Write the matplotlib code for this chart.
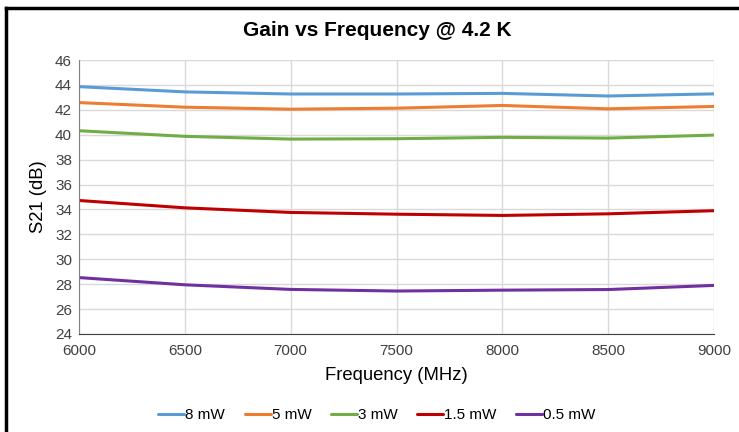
import matplotlib
matplotlib.use("Agg")
import matplotlib.pyplot as plt
from matplotlib.lines import Line2D

plt.rcParams['font.family'] = ['Liberation Sans', 'DejaVu Sans']

# donnees
freq = [6000, 6500, 7000, 7500, 8000, 8500, 9000]
gain_8mw = [43.86, 43.44, 43.27, 43.27, 43.32, 43.11, 43.28]
gain_5mw = [42.58, 42.21, 42.05, 42.13, 42.35, 42.08, 42.27]
gain_3mw = [40.32, 39.87, 39.65, 39.68, 39.79, 39.73, 39.97]
gain_1p5mw = [34.72, 34.13, 33.76, 33.62, 33.52, 33.65, 33.90]
gain_0p5mw = [28.53, 27.95, 27.58, 27.45, 27.52, 27.57, 27.90]

series = [
	("8 mW", gain_8mw, "#5B9BD5"),
	("5 mW", gain_5mw, "#ED7D31"),
	("3 mW", gain_3mw, "#70AD47"),
	("1.5 mW", gain_1p5mw, "#C00000"),
	("0.5 mW", gain_0p5mw, "#7030A0"),
]

fig = plt.figure(figsize=(7.39, 4.32), dpi=100)
ax = fig.add_axes([79/739, 1-334/432, (714-79)/739, (334-60)/432])

for label, vals, col in series:
	ax.plot(freq, vals, color=col, lw=2.2, label=label, solid_capstyle='round')

ax.set_xlim(6000, 9000)
ax.set_ylim(24, 46)
ax.set_xticks(range(6000, 9001, 500))
ax.set_yticks(range(24, 47, 2))
ax.grid(True, color="#d9d9d9", lw=1)
ax.set_axisbelow(True)
for s in ["top", "right"]:
	ax.spines[s].set_visible(False)
ax.spines["left"].set_color("#808080")
ax.spines["bottom"].set_color("#404040")
ax.tick_params(length=0, labelsize=11, colors="#404040", pad=5)
ax.tick_params(axis='x', pad=7)

ax.set_xlabel("Frequency (MHz)", fontsize=13.3, color="#000000", labelpad=7)
ax.set_ylabel("S21 (dB)", fontsize=13.3, color="#000000", labelpad=6)
fig.text(377/739, 1-30/432, "Gain vs Frequency @ 4.2 K", ha="center", va="center",
	fontsize=15, fontweight="bold")

fig.legend(*ax.get_legend_handles_labels(), loc="center",
	bbox_to_anchor=(377/739, 1-415/432), ncol=5, frameon=False,
	fontsize=11, handlelength=1.7, handletextpad=0.05, columnspacing=1.3)

# cadre noir
fig.add_artist(Line2D([6/739, 1], [1-8/432, 1-8/432], color="black", lw=2.5))
fig.add_artist(Line2D([6/739, 6/739], [0, 1-8/432], color="black", lw=2.5))

fig.savefig("out.png", dpi=100)
